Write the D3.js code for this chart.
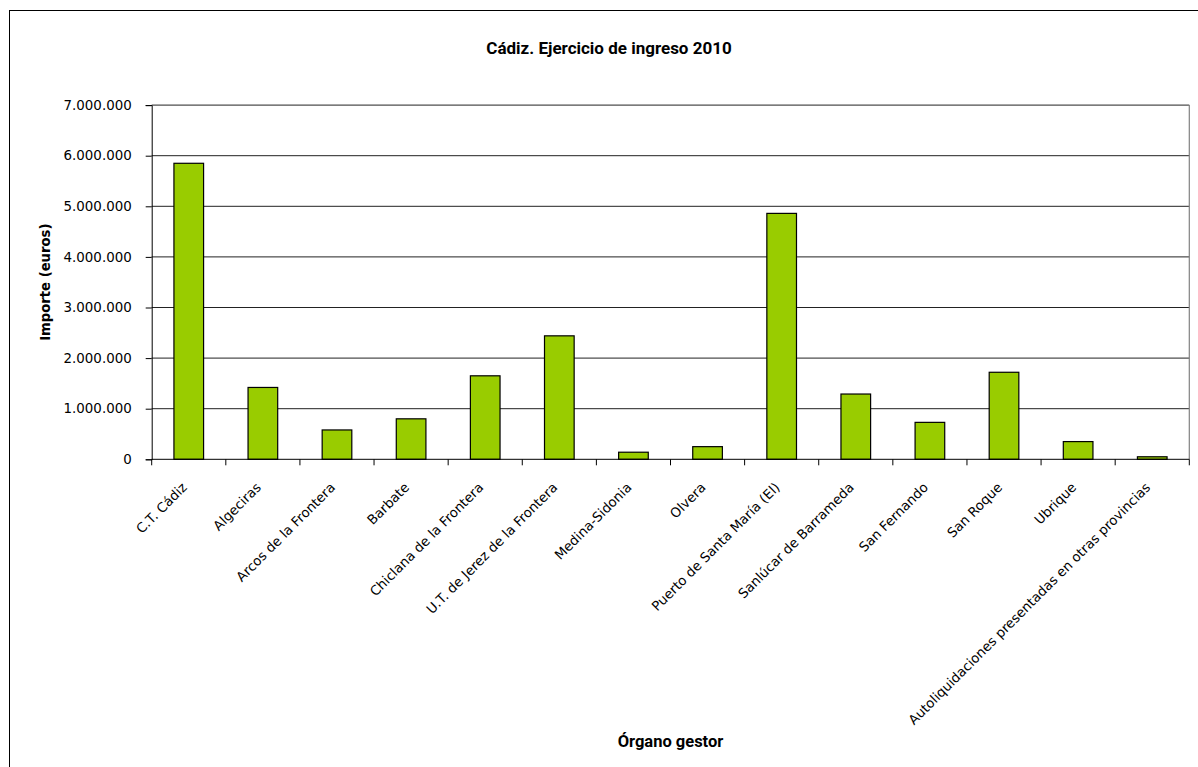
<!DOCTYPE html>
<html>
<head>
<meta charset="utf-8">
<script src="https://cdnjs.cloudflare.com/ajax/libs/d3/7.8.5/d3.min.js"></script>
<style>
  html, body { margin: 0; padding: 0; background: #fff; }
  svg { display: block; }
</style>
</head>
<body>
<svg id="chart" width="1198" height="767"></svg>
<script>
const categories = [
  "C.T. Cádiz",
  "Algeciras",
  "Arcos de la Frontera",
  "Barbate",
  "Chiclana de la Frontera",
  "U.T. de Jerez de la Frontera",
  "Medina-Sidonia",
  "Olvera",
  "Puerto de Santa María (El)",
  "Sanlúcar de Barrameda",
  "San Fernando",
  "San Roque",
  "Ubrique",
  "Autoliquidaciones presentadas en otras provincias"
];
const values = [
  5850000, 1420000, 580000, 800000, 1650000, 2440000, 140000,
  250000, 4860000, 1290000, 730000, 1720000, 350000, 50000
];
const yTicks = [0, 1000000, 2000000, 3000000, 4000000, 5000000, 6000000, 7000000];
const titleText = "Cádiz. Ejercicio de ingreso 2010";
const yTitle = "Importe (euros)";
const xTitle = "Órgano gestor";

const svg = d3.select("#chart");
const plot = { left: 151.7, right: 1189.3, top: 105.1, bottom: 459.3 };

const locale = d3.formatLocale({ decimal: ",", thousands: ".", grouping: [3], currency: ["", " €"] });
const fmt = locale.format(",.0f");

// outer border
svg.append("rect")
  .attr("x", 9.5).attr("y", 10.5)
  .attr("width", 1210).attr("height", 800)
  .attr("fill", "#fff").attr("stroke", "#000").attr("stroke-width", 1);

const x = d3.scaleBand().domain(categories).range([plot.left, plot.right]).paddingInner(0).paddingOuter(0);
const y = d3.scaleLinear().domain([0, 7000000]).range([plot.bottom, plot.top]);

// gridlines
svg.append("g").selectAll("line").data(yTicks.filter(d => d > 0)).join("line")
  .attr("x1", plot.left).attr("x2", plot.right)
  .attr("y1", d => y(d)).attr("y2", d => y(d))
  .attr("stroke", "#222").attr("stroke-width", 1);

// plot area border (right side)
svg.append("line")
  .attr("x1", plot.right).attr("x2", plot.right)
  .attr("y1", plot.top).attr("y2", plot.bottom)
  .attr("stroke", "#808080").attr("stroke-width", 1.2);

// bars
const bw = x.step() / 2.5;
svg.append("g").selectAll("rect").data(categories).join("rect")
  .attr("x", (d) => x(d) + x.step() / 2 - bw / 2)
  .attr("y", (d, i) => y(values[i]))
  .attr("width", bw)
  .attr("height", (d, i) => y(0) - y(values[i]))
  .attr("fill", "#99CC00")
  .attr("stroke", "#000")
  .attr("stroke-width", 1.2);

// y axis
const yAxis = d3.axisLeft(y).tickValues(yTicks).tickFormat(fmt).tickSize(6).tickPadding(14);
const gy = svg.append("g").attr("transform", `translate(${plot.left},0)`).call(yAxis);
gy.select(".domain").attr("stroke", "#000");
gy.selectAll(".tick line").attr("stroke", "#000");
gy.selectAll(".tick text")
  .attr("font-family", "'DejaVu Sans', Verdana, sans-serif")
  .attr("font-size", "13.4px").attr("fill", "#000");

// x axis ticks at band boundaries
const gx = svg.append("g");
gx.append("line")
  .attr("x1", plot.left).attr("x2", plot.right)
  .attr("y1", plot.bottom).attr("y2", plot.bottom)
  .attr("stroke", "#000");
const bounds = categories.map(c => x(c)).concat([plot.right]);
gx.selectAll("line.tk").data(bounds).join("line").attr("class", "tk")
  .attr("x1", d => d).attr("x2", d => d)
  .attr("y1", plot.bottom).attr("y2", plot.bottom + 6)
  .attr("stroke", "#000");

// x labels rotated
gx.selectAll("text").data(categories).join("text")
  .attr("transform", d => `translate(${x(d) + x.step() / 2 - 1},${plot.bottom + 29}) rotate(-45)`)
  .attr("text-anchor", "end")
  .attr("font-family", "'DejaVu Sans', Verdana, sans-serif")
  .attr("font-size", "13.3px").attr("fill", "#000")
  .text(d => d);

// titles
svg.append("text")
  .attr("x", 609).attr("y", 54)
  .attr("text-anchor", "middle")
  .attr("font-family", "Roboto, 'Liberation Sans', sans-serif")
  .attr("font-weight", "bold").attr("font-size", "17px")
  .text(titleText);

svg.append("text")
  .attr("transform", `translate(50,${(plot.top + plot.bottom) / 2}) rotate(-90)`)
  .attr("text-anchor", "middle")
  .attr("font-family", "'DejaVu Sans', Verdana, sans-serif")
  .attr("font-weight", "bold").attr("font-size", "13.2px")
  .text(yTitle);

svg.append("text")
  .attr("x", (plot.left + plot.right) / 2).attr("y", 747)
  .attr("text-anchor", "middle")
  .attr("font-family", "Roboto, 'Liberation Sans', sans-serif")
  .attr("font-weight", "bold").attr("font-size", "16.5px")
  .text(xTitle);
</script>
</body>
</html>
